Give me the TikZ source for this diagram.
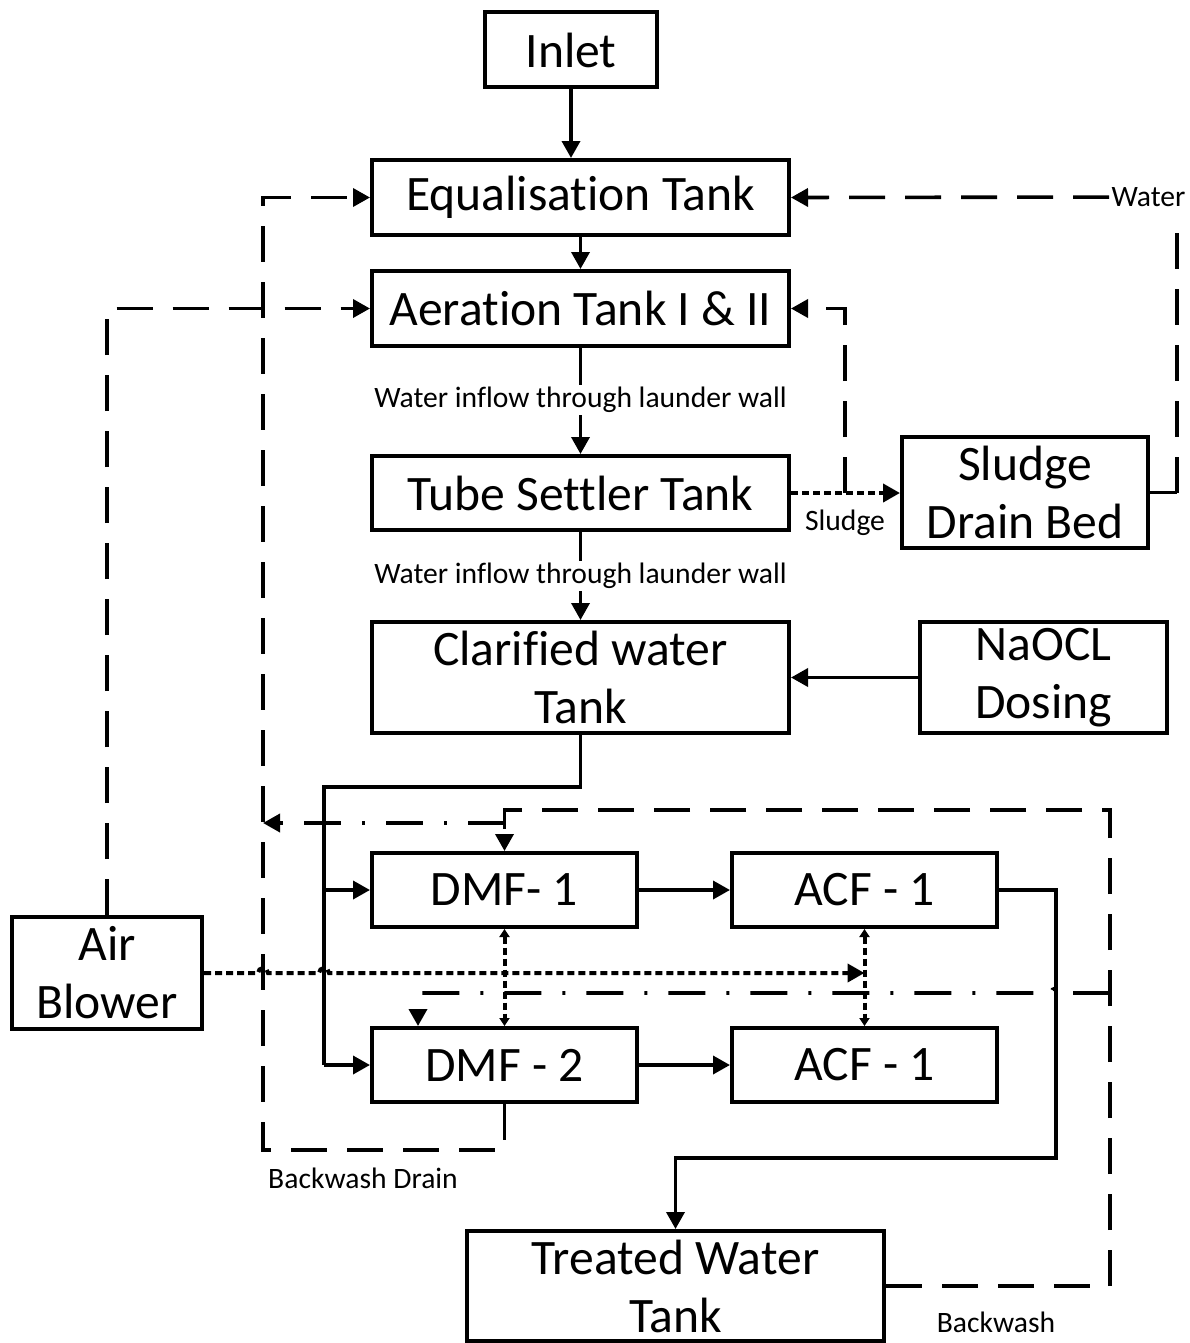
\documentclass[tikz,border=0pt]{standalone}
\usepackage{fontspec}
\setmainfont[Ligatures=NoCommon]{Carlito}
\usetikzlibrary{arrows.meta}

\begin{document}
\begin{tikzpicture}[x=0.5pt,y=-0.5pt,
    box/.style={draw, line width=2pt, inner sep=0pt, align=center, font=\fontsize{24.8}{29}\selectfont},
    lbl/.style={inner sep=1pt, font=\fontsize{14.8}{17}\selectfont},
    ln/.style={line width=1.8pt},
    tip/.style={-{Triangle[length=8.5pt,width=9pt]}},
    dashln/.style={ln, dash pattern=on 18pt off 10pt},
    dotln/.style={line width=2pt, dash pattern=on 3.5pt off 2pt},
    dashdotln/.style={ln, dash pattern=on 18.5pt off 10.5pt on 1.5pt off 10.5pt}]
    \useasboundingbox (0,0) rectangle (1189,1343);

    \node[box, minimum width=86pt, minimum height=37.5pt] (inlet) at (571,50) {Inlet};
    \node[box, minimum width=208.5pt, minimum height=37.5pt] (eq) at (580.5,197.5) {Equalisation Tank};
    \node[box, minimum width=208.5pt, minimum height=37.5pt] (aer) at (580.5,308.5) {Aeration Tank I \& II};
    \node[box, minimum width=208.5pt, minimum height=37pt] (tst) at (580.5,493) {Tube Settler Tank};
    \node[box, minimum width=123pt, minimum height=55.5pt] (sdb) at (1025,492.5) {Sludge\\Drain Bed};
    \node[box, minimum width=208.5pt, minimum height=55.5pt] (cwt) at (580.5,677.5) {Clarified water\\Tank};
    \node[box, minimum width=123.5pt, minimum height=55.5pt] (naocl) at (1043.5,677.5) {NaOCL\\Dosing};
    \node[box, minimum width=132.5pt, minimum height=37pt] (dmfa) at (504.5,890) {DMF- 1};
    \node[box, minimum width=132.5pt, minimum height=37pt] (acfa) at (864.5,890) {ACF - 1};
    \node[box, minimum width=132.5pt, minimum height=37pt] (dmfb) at (504.5,1065) {DMF - 2};
    \node[box, minimum width=132.5pt, minimum height=37pt] (acfb) at (864.5,1065) {ACF - 1};
    \node[box, minimum width=95pt, minimum height=56pt] (blower) at (107,973) {Air\\Blower};
    \node[box, minimum width=208.5pt, minimum height=55pt] (twt) at (675.5,1286) {Treated Water\\Tank};

    \node[lbl] (wall1) at (580.5,400) {Water inflow through launder wall};
    \node[lbl] (wall2) at (580.5,576) {Water inflow through launder wall};
    \node[lbl] (sludge) at (845,523) {Sludge};
    \node[lbl] (water) at (1148.5,197) {Water};
    \node[lbl] (bwdrain) at (363,1178) {Backwash Drain};
    \node[lbl] (bwash) at (996,1322) {Backwash};

    \coordinate (split) at (324,787);
    \coordinate (ret) at (1056,1158);
    \coordinate (sret) at (845,493);
    \coordinate (wcorner) at (1177,215);
    \coordinate (bwtop) at (1110,810);
    \coordinate (bwmid) at (1110,993);
    \coordinate (dmfb2) at (418,993);
    \coordinate (bwout) at (504.5,823);
    \coordinate (drain) at (263,823);
    \coordinate (drainlow) at (263,1150);

    % main flow
    \draw[ln,tip] (inlet) -- (inlet |- eq.north);
    \draw[ln,tip] (eq) -- (aer);
    \draw[ln] (aer) -- (wall1);
    \draw[ln,tip] (wall1) -- (tst);
    \draw[ln] (tst) -- (wall2);
    \draw[ln,tip] (wall2) -- (cwt);
    \draw[ln,tip] (naocl) -- (cwt);
    \draw[ln] (cwt.south) |- (split) -- (split |- dmfb.west);
    \draw[ln,tip] (split |- dmfa.west) -- (dmfa.west);
    \draw[ln,tip] (split |- dmfb.west) -- (dmfb.west);
    \draw[ln,tip] (dmfa) -- (acfa);
    \draw[ln,tip] (dmfb) -- (acfb);
    \draw[ln,tip] (acfa.east) -| (ret) -| (twt.north);

    % sludge and water return
    \draw[dotln,tip] (tst.east) -- (tst.east -| sdb.west);
    \draw[dashln,tip] (sret) |- (aer.east);
    \draw[ln] (sdb.east) -- (sdb.east -| wcorner);
    \draw[dashln] (sdb.east -| wcorner) -- (wcorner);
    \draw[dashln,tip] (water) -- (eq.east);

    % air
    \draw[dashln,tip] (blower.north) |- (aer.west);
    \draw[dotln,tip] (blower.east) -- (258,973) arc[start angle=180,end angle=0,radius=2.5pt]
        -- (319,973) arc[start angle=180,end angle=0,radius=2.5pt] -- (acfa.south |- blower.east);
    \draw[dotln,{Triangle[length=4pt,width=5pt]}-{Triangle[length=4pt,width=5pt]}] (dmfa.south) -- (dmfb.north);
    \draw[dotln,{Triangle[length=4pt,width=5pt]}-{Triangle[length=4pt,width=5pt]}] (acfa.south) -- (acfb.north);

    % backwash
    \draw[dashln,tip] (twt.east) -| (bwtop) -| (dmfa.north);
    \draw[dashdotln,tip] (bwout) -- (drain);
    \draw[dashdotln,tip] (bwmid) -- (1061,993) arc[start angle=0,end angle=180,radius=2.5pt]
        -- (dmfb2) -- (dmfb2 |- dmfb.north);
    \draw[dashln,tip] (dmfb.south) |- (drainlow) |- (eq.west);
\end{tikzpicture}
\end{document}
